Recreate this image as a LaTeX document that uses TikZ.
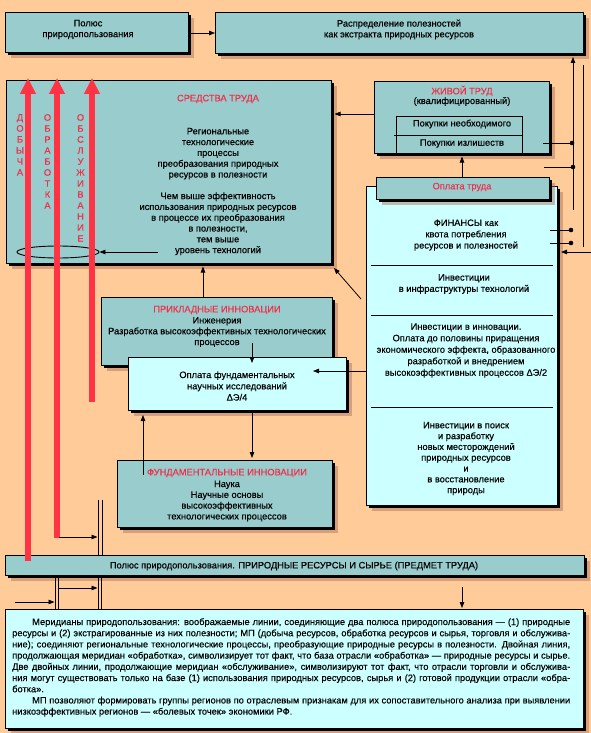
\documentclass[tikz,border=0pt]{standalone}
\usepackage{fontspec}
\setmainfont{Liberation Sans}[FakeBold=0.35]
\usetikzlibrary{arrows.meta,shapes.geometric}
\definecolor{bgc}{HTML}{FFCC99}
\definecolor{tealA}{HTML}{99CCCC}
\definecolor{cyanA}{HTML}{CCFFFF}
\definecolor{redA}{HTML}{FF3344}
\definecolor{redT}{HTML}{F0304A}
\definecolor{shbrown}{HTML}{A86A55}
\newcommand\justline[2][558pt]{\makebox[#1][s]{#2}}
\begin{document}
\begin{tikzpicture}[x=1pt,y=-1pt,
  shbox/.style={draw=black, line width=0.9pt, inner sep=0pt, anchor=north west,
     preaction={fill=shbrown, fill opacity=0.45, draw=none, transform canvas={shift={(6pt,-6pt)}}},
     preaction={fill=black, draw=none, transform canvas={shift={(3pt,-3pt)}}}},
  tealbox/.style={shbox, fill=tealA},
  cyanbox/.style={shbox, fill=cyanA},
  plainbox/.style={draw=black, line width=0.8pt, inner sep=0pt, anchor=north west, fill=tealA},
  txt/.style={font=\fontsize{9.3}{10.8}\selectfont, align=center, inner sep=0pt},
  rtxt/.style={txt, text=redT},
  vtxt/.style={rtxt, anchor=north, font=\fontsize{9.3}{11}\selectfont},
  con/.style={line width=0.8pt, -{Triangle[length=6pt,width=4.5pt]}},
  ln/.style={line width=0.8pt},
  dot/.style={circle, fill=black, inner sep=0pt, minimum size=4.6pt},
  redarrow/.style={draw=redA, line width=5.5pt, -{Triangle[length=16pt,width=15pt]}},
]
\fill[bgc] (0,0) rectangle (591,733);
\useasboundingbox (0,0) rectangle (591,733);

% boxes
\node[tealbox, minimum width=183pt, minimum height=40pt] (boxA) at (5,12) {};
\node[tealbox, minimum width=368pt, minimum height=41pt] (boxB) at (215,12) {};
\node[tealbox, minimum width=325pt, minimum height=183pt] (boxC) at (6,80) {};
\node[tealbox, minimum width=175pt, minimum height=72pt] (boxD) at (374,81) {};
\node[plainbox, minimum width=126pt, minimum height=19pt] (inD1) at (396,116) {};
\node[plainbox, minimum width=126pt, minimum height=18pt] (inD2) at (396,135) {};
\node[cyanbox, minimum width=191pt, minimum height=319pt] (boxFin) at (366,186) {};
\node[tealbox, minimum width=173pt, minimum height=22pt] (boxOpl) at (376,177) {};
\node[tealbox, minimum width=231pt, minimum height=68pt] (boxP) at (101,297) {};
\node[cyanbox, minimum width=218pt, minimum height=53pt] (boxOF) at (128,357) {};
\node[tealbox, minimum width=215pt, minimum height=67pt] (boxF) at (117,460) {};
\node[tealbox, minimum width=579pt, minimum height=20pt] (bar) at (5,555) {};
\node[cyanbox, minimum width=578pt, minimum height=119pt] (boxT) at (5,609) {};

% dividers in finance box
\draw[ln] (371,265) -- (553,265);
\draw[ln] (371,315) -- (553,315);
\draw[ln] (371,407) -- (553,407);
\draw[ln] (394,135) -- (396,135);

% texts
\node[txt] (tA) at (88,29.5) {Полюс\\природопользования};
\node[txt] (tB) at (399,29.5) {Распределение полезностей\\как экстракта природных ресурсов};
\node[rtxt] (tCr) at (218,99) {СРЕДСТВА ТРУДА};
\node[txt] (tC) at (218,191.5) {Региональные\\технологические\\процессы\\преобразования природных\\ресурсов в полезности\\[10.8pt]Чем выше эффективность\\использования природных ресурсов\\в процессе их преобразования\\в полезности,\\тем выше\\уровень технологий};
\node[rtxt] (tDr) at (462,91) {ЖИВОЙ ТРУД};
\node[txt] (tD) at (462,101.5) {(квалифицированный)};
\node[txt] (tD1) at (462,124) {Покупки необходимого};
\node[txt] (tD2) at (462,143.5) {Покупки излишеств};
\node[rtxt] (tOpl) at (462,187) {Оплата труда};
\node[txt, font=\fontsize{9.3}{11.3}\selectfont] (tF1) at (466,235) {ФИНАНСЫ как\\квота потребления\\ресурсов и полезностей};
\node[txt, font=\fontsize{9.3}{11.3}\selectfont] (tF2) at (464,284) {Инвестиции\\в инфраструктуры технологий};
\node[txt, font=\fontsize{9.3}{11.5}\selectfont] (tF3) at (466,350.5) {Инвестиции в инновации.\\Оплата до половины приращения\\экономического эффекта, образованного\\разработкой и внедрением\\высокоэффективных процессов ΔЭ/2};
\node[txt, font=\fontsize{9.3}{10.8}\selectfont] (tF4) at (466,458.5) {Инвестиции в поиск\\и разработку\\новых месторождений\\природных ресурсов\\и\\в восстановление\\природы};
\node[rtxt] (tPr) at (217,310) {ПРИКЛАДНЫЕ ИННОВАЦИИ};
\node[txt] (tP) at (217,332) {Инженерия\\Разработка высокоэффективных технологических\\процессов};
\node[txt, font=\fontsize{9.3}{11.3}\selectfont] (tOF) at (237,386) {Оплата фундаментальных\\научных исследований\\ΔЭ/4};
\node[rtxt] (tFr) at (227,473) {ФУНДАМЕНТАЛЬНЫЕ ИННОВАЦИИ};
\node[txt] (tF) at (227,501) {Наука\\Научные основы\\высокоэффективных\\технологических процессов};
\node[txt] (tBar) at (294,566) {Полюс природопользования. ПРИРОДНЫЕ РЕСУРСЫ И СЫРЬЕ (ПРЕДМЕТ ТРУДА)};
\node[anchor=north west, inner sep=0pt, align=left, font=\fontsize{9.3}{11.2}\selectfont] (para) at (12,618) {%
\hspace*{20pt}\justline[538pt]{Меридианы природопользования: воображаемые линии, соединяющие два полюса природопользования — (1) природные}\\
\justline{ресурсы и (2) экстрагированные из них полезности; МП (добыча ресурсов, обработка ресурсов и сырья, торговля и обслужива-}\\
\justline{ние); соединяют региональные технологические процессы, преобразующие природные ресурсы в полезности. Двойная линия,}\\
\justline{продолжающая меридиан «обработка», символизирует тот факт, что база отрасли «обработка» — природные ресурсы и сырье.}\\
\justline{Две двойных линии, продолжающие меридиан «обслуживание», символизируют тот факт, что отрасли торговли и обслужива-}\\
\justline{ния могут существовать только на базе (1) использования природных ресурсов, сырья и (2) готовой продукции отрасли «обра-}\\
ботка».\\
\hspace*{20pt}\justline[538pt]{МП позволяют формировать группы регионов по отраслевым признакам для их сопоставительного анализа при выявлении}\\
низкоэффективных регионов — «болевых точек» экономики РФ.};

% ellipse
\node[draw, ellipse, line width=0.9pt, minimum width=82pt, minimum height=12pt, inner sep=0pt] (ell) at (58,252) {};
\coordinate (ellsrc) at (158,252);
\draw[con] (ellsrc) -- (ell.east);

% vertical red labels
\node[vtxt] (v1) at (20,114) {Д\\О\\Б\\Ы\\Ч\\А};
\node[vtxt] (v2) at (47.5,114) {О\\Б\\Р\\А\\Б\\О\\Т\\К\\А};
\node[vtxt] (v3) at (80.5,114) {О\\Б\\С\\Л\\У\\Ж\\И\\В\\А\\Н\\И\\Е};

% red meridian arrows
\coordinate (r1s) at (28,561); \coordinate (r1e) at (28,78);
\coordinate (r2s) at (57,538); \coordinate (r2e) at (57,78);
\coordinate (r3s) at (92,402); \coordinate (r3e) at (92,78);
\draw[redarrow] (r1s) -- (r1e);
\draw[redarrow] (r2s) -- (r2e);
\draw[redarrow] (r3s) -- (r3e);

% connectors
\draw[con] (188,33) -- (boxB.west |- 0,33);
\coordinate (dL) at (374,114); \coordinate (cR) at (334.5,114);
\draw[con] (dL) -- (cR);
\coordinate (oplT) at (462,177); \coordinate (dB) at (462,156.5);
\draw[con] (oplT) -- (dB);
\coordinate (diagS) at (361,299); \coordinate (diagE) at (334,268);
\draw[ln, -{Triangle[length=6pt,width=4.5pt]}] (diagS) -- (diagE);
\coordinate (pT) at (203,297); \coordinate (cB) at (203,266.5);
\draw[con] (pT) -- (cB);
\coordinate (pTxt) at (252,343); \coordinate (ofIn) at (252,363);
\draw[con] (pTxt) -- (ofIn);
\coordinate (finL) at (366,371); \coordinate (ofTxt) at (313,371);
\draw[con] (finL) -- (ofTxt);
\coordinate (ofB) at (252,413); \coordinate (fT) at (252,458);
\draw[con] (ofB) -- (fT);
\coordinate (fIn) at (143,475); \coordinate (ofB2) at (143,415);
\draw[con] (fIn) -- (ofB2);

% right side lines
\coordinate (rv1s) at (573,210); \coordinate (rv1e) at (573,57);
\draw[con] (rv1s) -- (rv1e);
\coordinate (rv2s) at (583,65); \coordinate (rv2e) at (583,247);
\draw[ln] (rv2s) -- (rv2e);
\node[dot] (d1) at (572,143) {}; \draw[ln] (543,143) -- (d1);
\node[dot] (d2) at (573,167) {}; \draw[ln] (544,167) -- (d2);
\node[dot] (d3) at (571,230) {}; \draw[ln] (550,230) -- (d3);
\node[dot] (d4) at (571,243) {}; \draw[ln] (550,243) -- (d4);
\coordinate (rin) at (591,252); \coordinate (finR) at (561,252);
\draw[con] (rin) -- (finR);

% double lines
\draw[ln] (98,500) -- (98,555) (102,500) -- (102,555);
\draw[ln] (98,575) -- (98,609) (101.5,575) -- (101.5,609);
\draw[ln] (55,575) -- (55,609) (58.5,575) -- (58.5,609);
\coordinate (dl1) at (59,537); \coordinate (dl2) at (97.5,537);
\draw[con] (dl1) -- (dl2);
\coordinate (dl3) at (58.5,588); \coordinate (dl4) at (97.5,588);
\draw[con] (dl3) -- (dl4);
\coordinate (dl5) at (15,602); \coordinate (dl6) at (54.5,602);
\draw[con] (dl5) -- (dl6);
\coordinate (tv1) at (462,587); \coordinate (tv2) at (462,608);
\draw[con] (tv1) -- (tv2);
\end{tikzpicture}
\end{document}
